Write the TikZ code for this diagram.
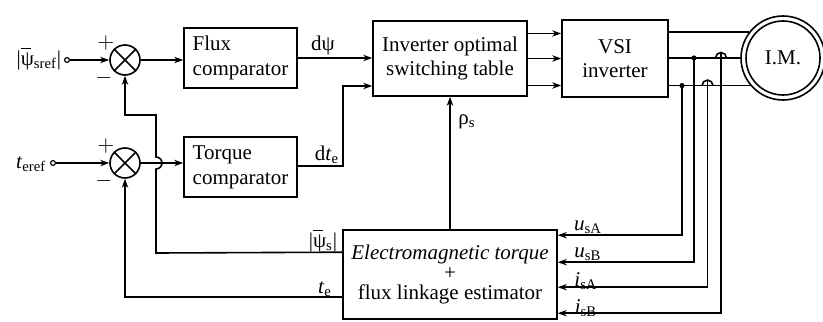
\documentclass[tikz,border=0pt]{standalone}
\usepackage{fontspec}
\setmainfont{Liberation Serif}
\usetikzlibrary{arrows.meta,calc}
\newcommand{\psibar}{\leavevmode\rlap{\raisebox{0.1pt}{\kern0.2pt\rule[1.62ex]{0.45em}{0.4pt}}}ψ}
\begin{document}
\begin{tikzpicture}[x=0.5pt,y=-0.5pt,line width=0.8pt,
  >={Stealth[length=4.5pt,width=3.2pt]},
  font=\fontsize{10.5}{12.5}\selectfont,
  box/.style={draw,inner sep=0pt,align=center},
  sumj/.style={draw,circle,minimum size=15pt,inner sep=0pt},
  term/.style={draw,circle,minimum size=2.4pt,inner sep=0pt,line width=0.6pt},
  jdot/.style={fill,circle,minimum size=2.6pt,inner sep=0pt},
  lab/.style={inner sep=0pt}]
\useasboundingbox (0,0) rectangle (823,321);
% blocks
\node[box,align=left,minimum width=56.5pt,minimum height=30pt] (flux) at (240.5,58) {Flux\\comparator};
\node[box,align=left,minimum width=56.5pt,minimum height=30pt] (torq) at (240.5,167) {Torque\\comparator};
\node[box,minimum width=77pt,minimum height=37.5pt] (table) at (450,58.5) {Inverter optimal\\[-0.5pt]switching table};
\node[box,minimum width=53pt,minimum height=38.5pt] (vsi) at (615,58.5) {VSI\\[-0.5pt]inverter};
\node[box,minimum width=107pt,minimum height=44.5pt] (est) at (450,274.5) {\textit{Electromagnetic torque}\\[-2.5pt]+\\[-2.5pt]flux linkage estimator};
\node[draw,circle,minimum size=42pt,inner sep=0pt] (motor) at (783,58) {};
\node[draw,circle,minimum size=37pt,inner sep=0pt] (motori) at (783,58) {I.M.};
% summing junctions
\node[sumj] (s1) at (125,60) {};
\draw (s1.45) -- (s1.225) (s1.135) -- (s1.315);
\node[sumj] (s2) at (125,163) {};
\draw (s2.45) -- (s2.225) (s2.135) -- (s2.315);
\node[lab] (p1) at (106,43) {$+$};
\node[lab] (m1) at (104,78) {$-$};
\node[lab] (p2) at (106,146) {$+$};
\node[lab] (m2) at (104,181) {$-$};
% inputs
\node[term] (t1) at (67,60) {};
\node[lab,anchor=east] (l1) at (62,59) {|\psibar\textsubscript{sref}|};
\node[term] (t2) at (53,163) {};
\node[lab,anchor=east] (l2) at (47,164) {\textit{t}\textsubscript{eref}};
\draw[->] (t1.east) -- (s1.west);
\draw[->] (t2.east) -- (s2.west);
\draw[->] (s1.east) -- (s1.east -| flux.west);
\draw[->] (s2.east) -- (s2.east -| torq.west);
% comparators to table
\draw[->] (flux.east) -- (flux.east -| table.west);
\node[lab] (ldpsi) at (323,45) {dψ};
\coordinate (k1) at (343,166);
\coordinate (k2) at (343,86);
\draw[->] (torq.east |- k1) -- (k1) -- (k2) -- (k2 -| table.west);
\node[lab] (ldte) at (327,155) {d\textit{t}\textsubscript{e}};
% table to VSI
\foreach \dy in {-25,0,27} \draw[->] ($(table.east)+(0,\dy)$) -- ($(vsi.west)+(0,\dy)$);
% VSI to motor
\draw (vsi.east |- motor.143) -- (motor.143);
\draw (vsi.east |- motor.west) -- (motor.west);
\draw (vsi.east |- motor.220) -- (motor.220);
% measurement taps
\node[jdot] (dA) at (682,85.6) {};
\node[jdot] (dB) at (694,58) {};
\draw[->] (dA.center) |- ($(est.north east)+(0,6)$);
\draw[->] (dB.center) |- ($(est.north east)+(0,33)$);
\draw (702,85.6) arc[start angle=180,end angle=360,radius=5.5];
\coordinate (hA) at (707.5,80.1);
\draw[->] (hA) |- ($(est.north east)+(0,58)$);
\draw (715.5,58) arc[start angle=180,end angle=360,radius=5.5];
\coordinate (hB) at (721,52.5);
\draw[->] (hB) |- ($(est.north east)+(0,84)$);
\node[lab] (luA) at (588,227) {\textit{u}\textsubscript{sA}};
\node[lab] (luB) at (588,254) {\textit{u}\textsubscript{sB}};
\node[lab] (liA) at (586,281) {\textit{i}\textsubscript{sA}};
\node[lab] (liB) at (586,308) {\textit{i}\textsubscript{sB}};
% estimator outputs
\draw[->] (est.north) -- (table.south);
\node[lab] (lrho) at (467,122) {ρ\textsubscript{s}};
\draw[->] ($(est.north west)+(0,23)$) -- (156,253) -- (156,169)
  arc[start angle=90,end angle=-90,radius=6] -- (156,115) -- (125,115) -- (s1.south);
\node[lab] (lpsis) at (323,241) {|\psibar\textsubscript{s}|};
\draw[->] ($(est.north west)+(0,68)$) -| (s2.south);
\node[lab] (lte) at (325,289) {\textit{t}\textsubscript{e}};
\end{tikzpicture}
\end{document}
